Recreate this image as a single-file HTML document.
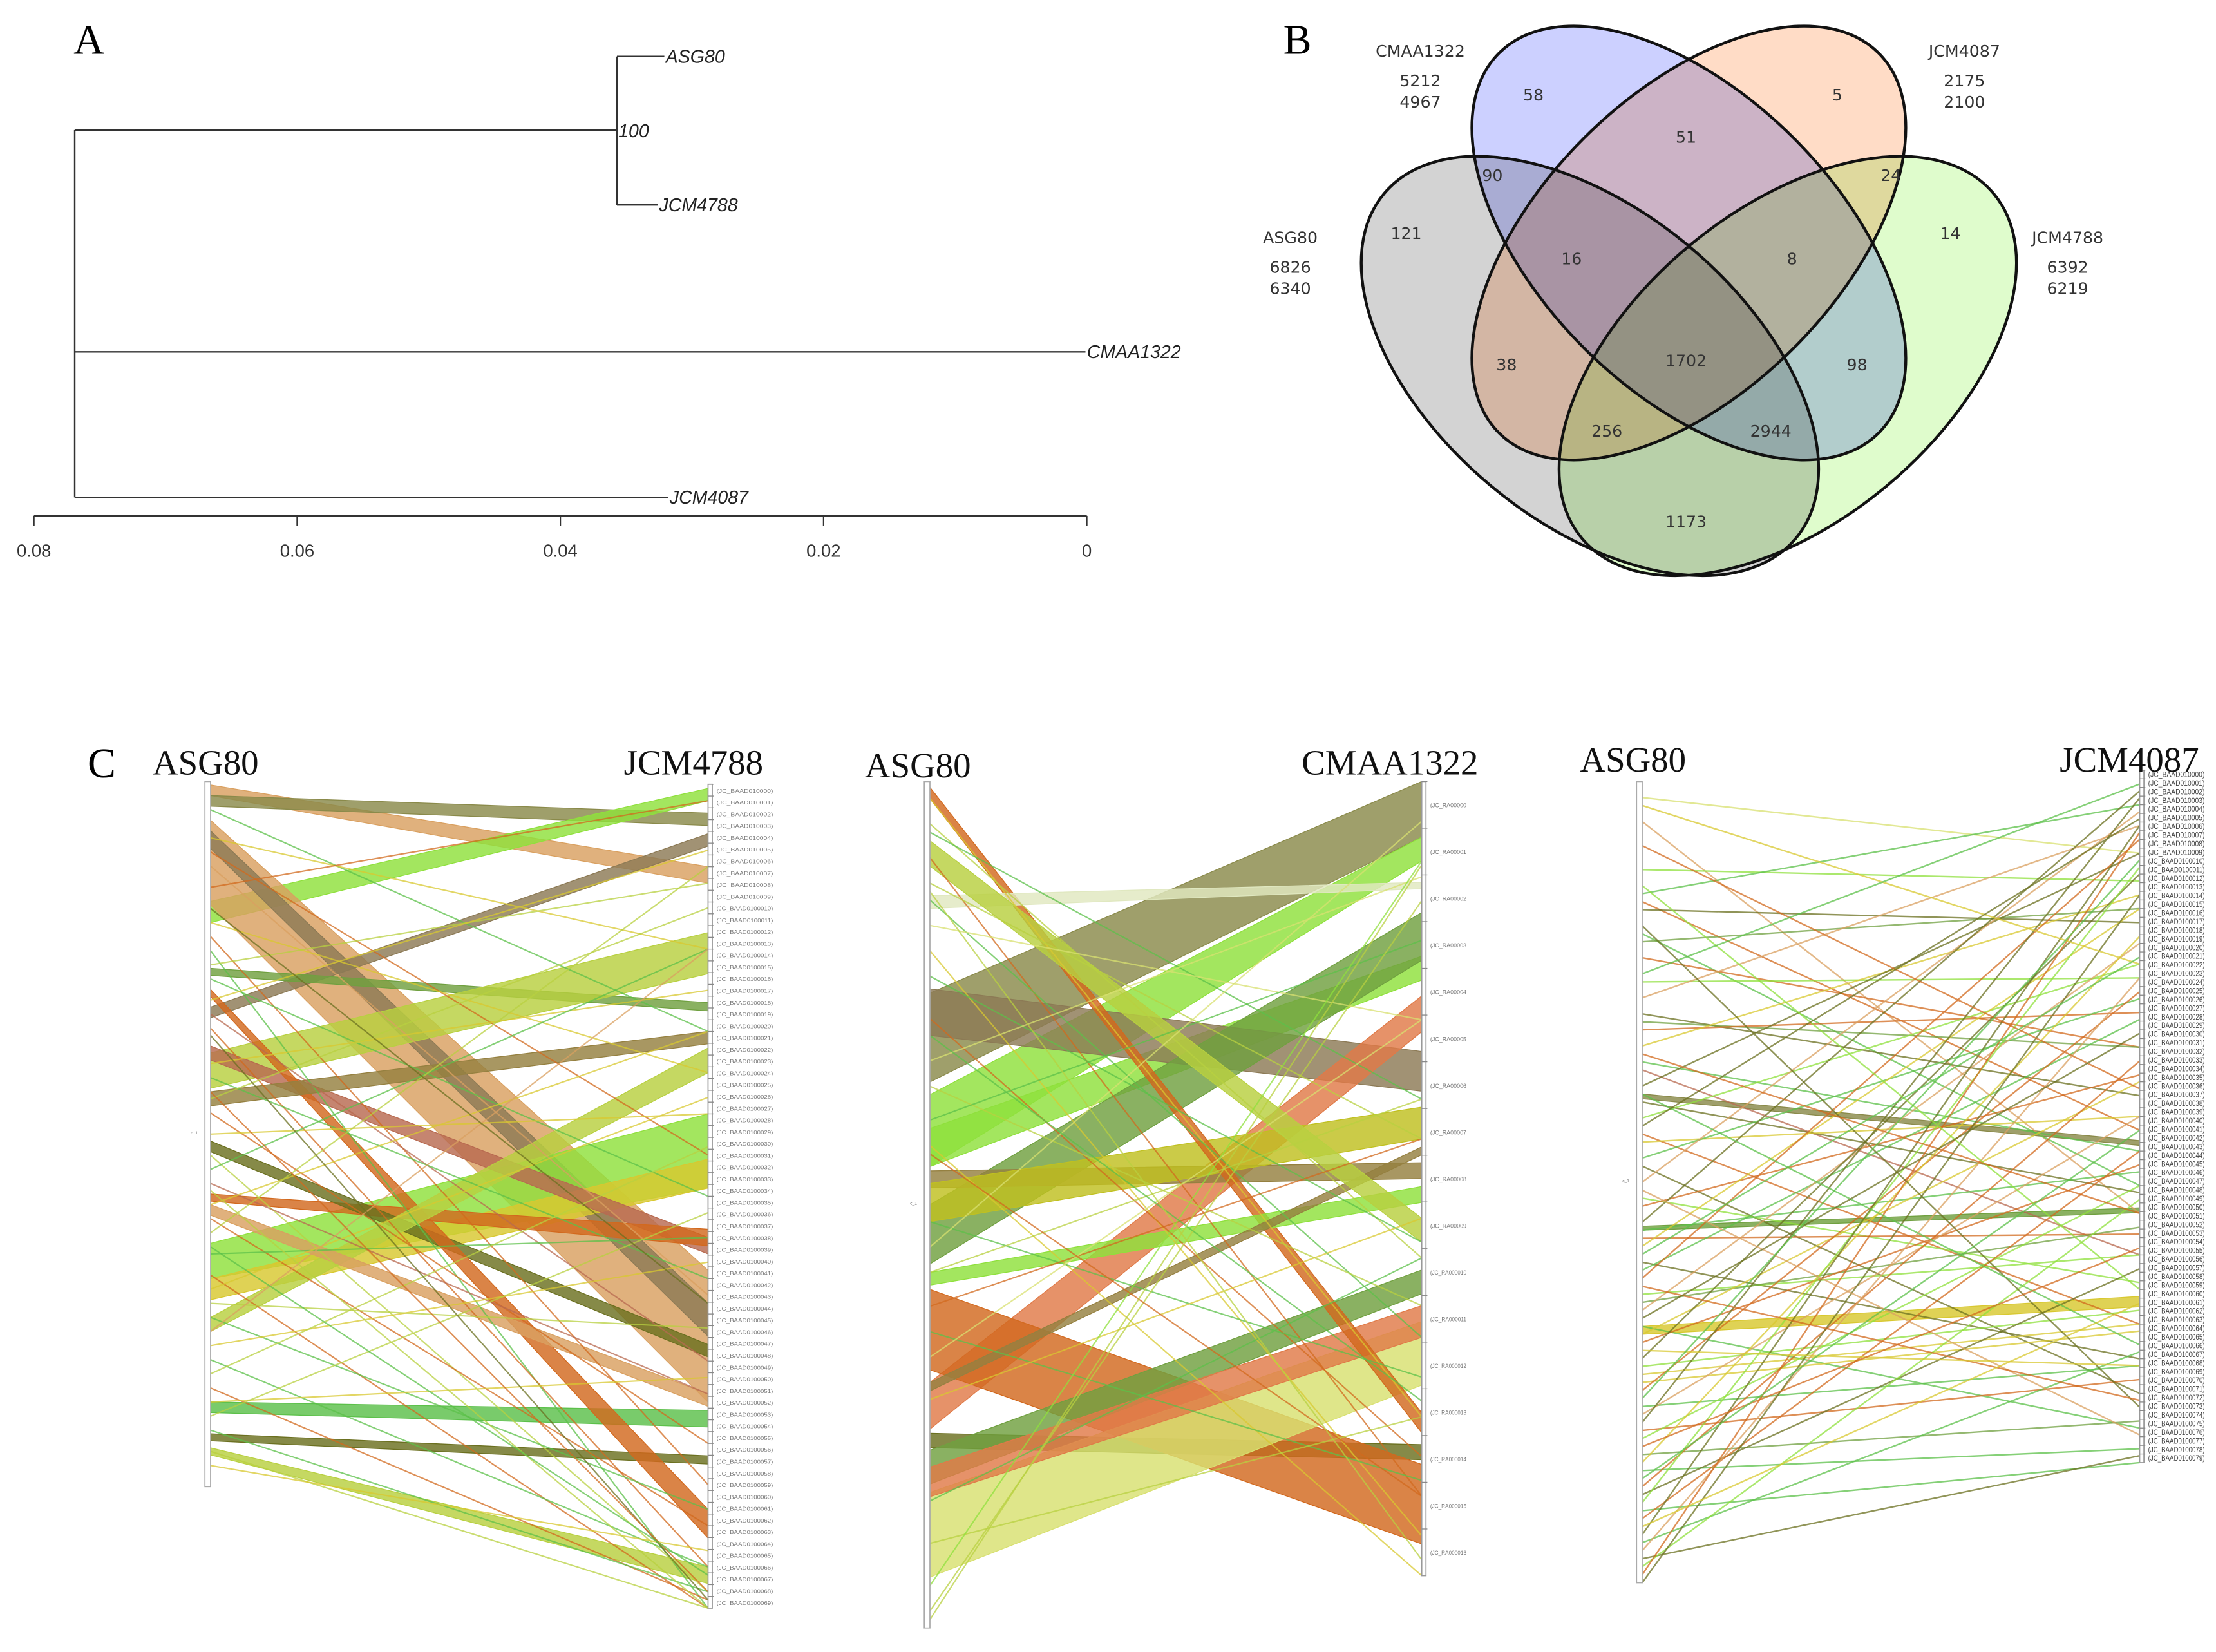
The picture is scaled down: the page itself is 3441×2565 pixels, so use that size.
<!DOCTYPE html>
<html><head><meta charset="utf-8">
<style>
html,body{margin:0;padding:0;background:#fff;}
svg{display:block;}
.lab{font-family:"Liberation Serif",serif;}
.tree{font-family:"Liberation Sans",sans-serif;font-style:italic;font-size:13px;fill:#222;}
.venn{font-family:"DejaVu Sans","Liberation Sans",sans-serif;font-size:11.5px;fill:#333;text-anchor:middle;}
</style></head>
<body>
<svg id="fig" xmlns="http://www.w3.org/2000/svg" width="3441" height="2565" viewBox="0 0 1568 1169" preserveAspectRatio="none">
<rect width="1568" height="1169" fill="#fff"/>
<text class="lab" x="52" y="38" font-size="30">A</text>
<text class="lab" x="908" y="38" font-size="30">B</text>
<text class="lab" x="62" y="550" font-size="30">C</text>
<g id="tree"></g>
<g id="venn" style="isolation:isolate"></g>
<g id="syn"></g>
</svg>
<script>
const NS='http://www.w3.org/2000/svg';
function mk(tag,attrs,parent){const e=document.createElementNS(NS,tag);for(const k in attrs)e.setAttribute(k,attrs[k]);parent.appendChild(e);return e;}

/* ---------- Panel A : tree ---------- */
const treeTicks=[0.08,0.06,0.04,0.02,0];
const treeTickLabels=['0.08','0.06','0.04','0.02','0'];
const leafNames=['ASG80','JCM4788','CMAA1322','JCM4087'];
const leafDepth=[0.0321,0.0326,0.0001,0.0318];
const rootDepth=0.0769, cladeDepth=0.0357, bootstrap='100';
const tg=document.getElementById('tree');
const tx=v=>769-v*(745/0.08);
const leafY=[40,145,249,352];
let ax=mk('line',{x1:tx(0.08),x2:tx(0),y1:365,y2:365,stroke:'#333','stroke-width':1},tg);


treeTicks.forEach((t,i)=>{
 const l=mk('line',{x1:tx(t),x2:tx(t),y1:365,y2:372,stroke:'#333','stroke-width':1},tg);
 
 
 const tt=mk('text',{x:tx(t),y:394,'text-anchor':'middle','font-family':'Liberation Sans, sans-serif','font-size':12.5,fill:'#333'},tg);
 tt.textContent=treeTickLabels[i];
 
 
});
const cladeY=92;
const br=(x1,y1,x2,y2)=>{const l=mk('line',{x1,y1,x2,y2,stroke:'#333','stroke-width':1.1},tg);};
br(tx(rootDepth),cladeY,tx(rootDepth),leafY[3]);
br(tx(rootDepth),cladeY,tx(cladeDepth),cladeY);
br(tx(cladeDepth),leafY[0],tx(cladeDepth),leafY[1]);
br(tx(cladeDepth),leafY[0],tx(leafDepth[0]),leafY[0]);
br(tx(cladeDepth),leafY[1],tx(leafDepth[1]),leafY[1]);
br(tx(rootDepth),leafY[2],tx(leafDepth[2]),leafY[2]);
br(tx(rootDepth),leafY[3],tx(leafDepth[3]),leafY[3]);
leafNames.forEach((n,i)=>{
 const t=mk('text',{class:'tree',x:tx(leafDepth[i])+1,y:leafY[i]+4.5},tg);
 t.textContent=n;
 
 
});
let bs=mk('text',{class:'tree',x:tx(cladeDepth)+1,y:cladeY+5},tg);bs.textContent=bootstrap;



/* ---------- Panel B : Venn ---------- */
const setNames=['ASG80','CMAA1322','JCM4087','JCM4788'];
const setTotals=[['6826','6340'],['5212','4967'],['2175','2100'],['6392','6219']];
const regionCounts=['58','5','51','90','24','121','14','16','8','38','1702','98','256','2944','1173'];
const vg=document.getElementById('venn');
const ell=[
 {cx:1125,cy:259,rx:190,ry:110,rot:40,fill:'#d3d3d3'},
 {cx:1195,cy:172,rx:190,ry:105,rot:45,fill:'#ccd0ff'},
 {cx:1195,cy:172,rx:190,ry:105,rot:-45,fill:'#ffdcc6'},
 {cx:1265,cy:259,rx:190,ry:110,rot:-40,fill:'#dffccc'}];
ell.forEach(e=>{const el=mk('ellipse',{cx:e.cx,cy:e.cy,rx:e.rx,ry:e.ry,transform:`rotate(${e.rot} ${e.cx} ${e.cy})`,fill:e.fill,style:'mix-blend-mode:multiply'},vg);
 
 });
ell.forEach(e=>{const el=mk('ellipse',{cx:e.cx,cy:e.cy,rx:e.rx,ry:e.ry,transform:`rotate(${e.rot} ${e.cx} ${e.cy})`,fill:'none',stroke:'#111','stroke-width':2},vg);
 
 });
const regionPos=[[1085,71],[1300,71],[1193,101],[1056,128],[1338,128],[995,169],[1380,169],[1112,187],[1268,187],[1066,262],[1193,259],[1314,262],[1137,309],[1253,309],[1193,373]];
const regionColor=['#335','#642','#424','#223','#332','#222','#4a2','#323','#333','#422','#222','#234','#332','#223','#232'];
regionCounts.forEach((c,i)=>{const t=mk('text',{class:'venn',x:regionPos[i][0],y:regionPos[i][1],fill:regionColor[i]},vg);t.textContent=c;
 
 });
const setLabPos=[[913,172],[1005,40],[1390,40],[1463,172]];
setNames.forEach((n,i)=>{const p=setLabPos[i];
 const t=mk('text',{class:'venn',x:p[0],y:p[1],'font-size':14,fill:'#222'},vg);t.textContent=n;
 
 
 setTotals[i].forEach((v,j)=>{const s=mk('text',{class:'venn',x:p[0],y:p[1]+21+j*15,fill:'#333'},vg);s.textContent=v;
  
  });
});

/* ---------- Panel C : synteny ---------- */
const palette=['#d2691e','#d9a060','#8a8a4a','#8c7a55','#8fe03c','#5cc04a','#d8c830','#b8d040','#6b7020','#b86a50','#70a040','#d8e070','#958040','#e07a48','#c0c020','#e0e8c0'];
const bands1=[[0.5,2,10,12,1],[2,3.5,3.5,5,2],[17,20,0.5,2,4],[5.5,17.5,59,75,1],[7,9.5,63,67,3],[32,33.5,6,7.5,3],[26.5,27.5,26.5,27.5,10],[38.5,43.5,18,23,7],[65.5,70.5,40,49,4],[70.5,73.5,45.5,49,6],[37.5,39.5,55,57,9],[58.5,59.5,54,56,0],[88,89.5,76,78,5],[92.5,93.5,81.5,82.5,8],[51,52.5,68,69.5,8],[29.5,30.5,88,91.5,0],[94.5,95.5,95,97,7],[44,46,30,31.5,12],[76,78,32,35,7],[60,61.5,74,75.5,1]];
const lines1=[[4,30,5],[8,20,6],[10,45,0],[12,62,1],[15,2,0],[20,35,6],[22,85,0],[24,100,5],[26,12,7],[28,50,5],[31,8,6],[33,70,9],[35,95,0],[40,25,6],[42,60,5],[45,15,7],[47,80,0],[50,40,6],[53,98,7],[55,20,5],[57,74,9],[60,30,6],[62,90,0],[64,10,7],[67,55,5],[70,100,0],[72,38,6],[74,66,7],[76,88,5],[78,20,1],[80,58,6],[82,95,5],[84,44,7],[86,99,0],[88,72,6],[90,52,7],[92,98,5],[95,100,7],[97,93,6],[18,63,8],[36,99,8],[44,98,0],[58,100,7],[66,96,5]];
const bands2=[[25,35.5,0,7,2],[37,45.5,7,10,4],[41,45.5,22,25,4],[24.5,30,34,39,3],[50,57,16.5,22.5,10],[71,76.5,27,31.5,13],[46,48,48,50,12],[77,78.7,83.5,85.4,8],[60,69.5,86,96,0],[84,94,68,76,11],[79,83,61.5,64.5,10],[81,84.5,66,70,13],[47.5,52,41,45,14],[0.7,2,79.5,82,0],[58,59.5,51,53,4],[71,72,46,47,12],[13.5,15,12.7,13.5,15],[7,10,55,58,7]];
const lines2=[[2,80,6],[5,60,7],[6,40,5],[9,90,0],[12,45,7],[14,70,5],[17,30,11],[20,95,6],[23,58,5],[28,85,0],[33,12,11],[36,66,7],[40,20,5],[43,100,6],[52,75,5],[55,5,11],[58,40,7],[62,45,0],[65,88,5],[68,30,11],[73,55,6],[85,60,5],[90,80,7],[95,10,4],[98,15,7],[44,90,0],[30,78,5],[13,98,7],[99,10.5,7]];
const bands3=[[68,69,76,77.5,6],[55.5,56,63.2,63.9,10],[39,39.6,53.5,54.2,2]];
const lines3=[[2,12,11],[5,64,1],[11,16,4],[14,5,5],[15,52,0],[16,22,8],[19,60,5],[20,20,10],[22,40,0],[25,30,4],[27,8,1],[29,47,8],[30,40,10],[31,35,0],[33,18,6],[35,55,5],[36,70,9],[38,12,8],[40,61,8],[42,28,4],[44,80,0],[45,50,6],[47,33,5],[48,90,8],[50,6,1],[52,74,4],[53,44,0],[55,3,8],[56,58,5],[57,67,0],[58,20,6],[60,85,8],[61,36,5],[62,10,0],[64,70,4],[65,66,10],[66,25,1],[68,95,5],[69,45,6],[70,57,0],[72,15,8],[73,78,4],[74,80,6],[75,81,6],[76,32,0],[78,86,5],[79,50,1],[80,4,8],[81,88,0],[82,60,4],[84,94,10],[85,24,6],[86,98,5],[88,42,0],[89,72,8],[90,14,4],[91,100,5],[92,55,0],[94,8,8],[95,84,5],[96,30,1],[97,99,8],[98,62,4],[99,9,0],[100,18,8],[3,28,6],[8,46,0],[13,75,4],[18,92,8],[24,2,5],[34,64,0],[39,83,5],[43,7,8],[51,96,1],[59,27,5],[63,91,0],[67,38,8],[71,86,6],[77,13,5],[83,69,0],[87,52,5],[93,77,6]];
const plotTitles=[['ASG80','JCM4788'],['ASG80','CMAA1322'],['ASG80','JCM4087']];

const plots=[
 {lx:147,lt:553,lb:1052,rx:502,rt:555,rb:1138,tl:[108,548],tr:[540,548],bands:bands1,lines:lines1,lw:1,rows:70,lblW:40},
 {lx:656,lt:553,lb:1152,rx:1007,rt:553,rb:1115,tl:[612,550],tr:[1046,548],bands:bands2,lines:lines2,lw:1,rows:17,lblW:32},
 {lx:1160,lt:553,lb:1120,rx:1515,rt:545,rb:1035,tl:[1118,546],tr:[1556,546],bands:bands3,lines:lines3,lw:1.1,rows:80,lblW:40}];
const sg=document.getElementById('syn');
plots.forEach((p,pi)=>{
 const g=mk('g',{},sg);
 
 
 const yL=v=>p.lt+(p.lb-p.lt)*v/100, yR=v=>p.rt+(p.rb-p.rt)*v/100;
 const x1=p.lx+2, x2=p.rx-1;
 p.bands.forEach(b=>{
  const poly=mk('polygon',{points:`${x1},${yL(b[0])} ${x2},${yR(b[2])} ${x2},${yR(b[3])} ${x1},${yL(b[1])}`,fill:palette[b[4]],'fill-opacity':0.82,stroke:palette[b[4]],'stroke-width':0.6},g);
  
  
 });
 p.lines.forEach(l=>{
  const ln=mk('line',{x1,y1:yL(l[0]),x2,y2:yR(l[1]),stroke:palette[l[2]],'stroke-width':p.lw,'stroke-opacity':0.75},g);
  
  
 });
 const lb=mk('rect',{x:p.lx-2,y:p.lt,width:4,height:p.lb-p.lt,fill:'#fff',stroke:'#aaa','stroke-width':0.8},g);
 
 
 const rb=mk('rect',{x:p.rx-1,y:p.rt,width:3,height:p.rb-p.rt,fill:'#fff',stroke:'#999','stroke-width':0.8},g);
 
 
 const ll=mk('text',{x:p.lx-12,y:(p.lt+p.lb)/2,'font-size':3,fill:'#666','font-family':'Liberation Sans, sans-serif'},g);ll.textContent='c_1';
 
 
 const step=(p.rb-p.rt)/p.rows;
 for(let i=0;i<p.rows;i++){
  const y=p.rt+step*(i+0.5);
  const tk=mk('text',{x:p.rx+5,y:y+1.8,'font-size':pi==1?4:(pi==2?5.5:3.8),fill:pi==2?'#444':'#777','font-family':'Liberation Sans, sans-serif',textLength:p.lblW*(pi==1?0.8:1),lengthAdjust:'spacingAndGlyphs'},g);
  tk.textContent=pi==1?'(JC_RA0000'+i:'(JC_BAAD01000'+i+')';
  
  
  const sep=mk('line',{x1:p.rx-1,x2:p.rx+3,y1:p.rt+step*i,y2:p.rt+step*i,stroke:'#888','stroke-width':0.6},g);
  
  
 }
 const t1=mk('text',{class:'lab',x:p.tl[0],y:p.tl[1],'font-size':25,fill:'#111'},g);t1.textContent=plotTitles[pi][0];
 
 
 const t2=mk('text',{class:'lab',x:p.tr[0],y:p.tr[1],'font-size':25,fill:'#111','text-anchor':'end'},g);t2.textContent=plotTitles[pi][1];
 
 
});
</script>
</body></html>
